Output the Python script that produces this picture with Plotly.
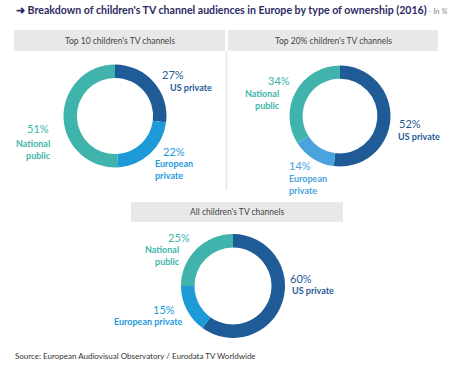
import plotly.graph_objects as go

W, H = 458, 365

categories = ["US private", "European private", "National public"]
panel_titles = ["Top 10 children's TV channels", "Top 20% children's TV channels", "All children's TV channels"]
top10_values = [27, 22, 51]
top20_values = [52, 14, 34]
all_values = [60, 15, 25]

colors_top10 = ["#1f5b96", "#1e9ad9", "#40b4ac"]
colors_top20 = ["#1f5b96", "#4aa3dd", "#40b4ac"]
colors_all = ["#1f5b96", "#1e9ad9", "#40b4ac"]

FONT = "Lato"

def px(x):
    return x / W

def py(y):
    return 1 - y / H

def dom(cx, cy, r):
    return dict(x=[px(cx - r), px(cx + r)], y=[py(cy + r), py(cy - r)])

fig = go.Figure()
for vals, cols, (cx, cy, r) in [
    (top10_values, colors_top10, (115, 116, 51.5)),
    (top20_values, colors_top20, (340, 116, 50.5)),
    (all_values, colors_all, (233, 286, 52)),
]:
    fig.add_trace(go.Pie(
        labels=categories, values=vals, hole=0.74, sort=False,
        direction="clockwise", rotation=0,
        marker=dict(colors=cols, line=dict(width=0)),
        textinfo="none", hoverinfo="label+percent",
        domain=dom(cx, cy, r), showlegend=False,
    ))

shapes = []
for x0, x1, y0, y1 in [(14, 225, 30, 51), (228, 438, 30, 51), (131, 343, 202, 222)]:
    shapes.append(dict(type="rect", xref="paper", yref="paper",
                       x0=px(x0), x1=px(x1), y0=py(y1), y1=py(y0),
                       fillcolor="#e8e8e8", line=dict(width=0), layer="below"))
shapes.append(dict(type="line", xref="paper", yref="paper",
                   x0=px(226.5), x1=px(226.5), y0=py(190), y1=py(51),
                   line=dict(color="#e6e6e6", width=1.5)))

ann = []

def add(text, x, y, color, size, anchor="left", bold=False):
    t = f"<b>{text}</b>" if bold else text
    ann.append(dict(text=t, x=px(x), y=py(y), xref="paper", yref="paper",
                    xanchor=anchor, yanchor="middle", showarrow=False, borderpad=0,
                    font=dict(family=FONT, size=size, color=color), align=anchor))

def add_lines(lines, x, y_mid, color, size, anchor="left"):
    add("<br>".join(f"<b>{l}</b>" for l in lines), x, y_mid, color, size, anchor)

# Title
ann.append(dict(text="<b>➜ Breakdown of children's TV channel audiences in Europe by type of ownership (2016)</b>"
                     "<span style='color:#888888;font-size:8px'><i> - In %</i></span>",
                x=px(14), y=py(10), xref="paper", yref="paper", xanchor="left", yanchor="middle",
                showarrow=False, font=dict(family=FONT, size=10.6, color="#2d2a63")))

# Panel headers
add(panel_titles[0], 120, 41, "#444444", 8.5, "center")
add(panel_titles[1], 333, 41, "#444444", 8.5, "center")
add(panel_titles[2], 237, 212, "#444444", 8.5, "center")

US, EU, EU2, NP = "#1f5b96", "#1e9ad9", "#4aa3dd", "#40b4ac"

def pct(v):
    return f"{v}%"

# Top 10
add(pct(top10_values[0]), 161, 75, US, 11)
add(categories[0], 169, 87, US, 9, bold=True)
add(pct(top10_values[1]), 162, 151, EU, 11)
add_lines(["European", "private"], 154, 169, EU, 9)
add(pct(top10_values[2]), 50, 128, NP, 11, "right")
add_lines(["National", "public"], 52, 149, NP, 9, "right")

# Top 20%
add(pct(top20_values[2]), 291, 80, NP, 11, "right")
add_lines(["National", "public"], 281, 99, NP, 9, "right")
add(pct(top20_values[0]), 398, 124, US, 11)
add(categories[0], 397, 136, US, 9, bold=True)
add(pct(top20_values[1]), 288, 165, EU2, 11)
add_lines(["European", "private"], 288, 184, EU2, 9)

# All
add(pct(all_values[2]), 191, 237, NP, 11, "right")
add_lines(["National", "public"], 181, 255, NP, 9, "right")
add(pct(all_values[0]), 289, 278, US, 11)
add(categories[0], 291, 290, US, 9, bold=True)
add(pct(all_values[1]), 176, 309, EU, 11, "right")
add(categories[1], 183, 321, EU, 9, "right", bold=True)

# Source
add("Source: European Audiovisual Observatory / Eurodata TV Worldwide", 14, 356, "#333333", 8)

fig.update_layout(width=W, height=H, margin=dict(l=0, r=0, t=0, b=0),
                  paper_bgcolor="white", plot_bgcolor="white",
                  shapes=shapes, annotations=ann, font=dict(family=FONT))
fig.write_html("out.html", config={"displayModeBar": False},
               post_script="document.body.style.margin='0';document.body.style.padding='0';")
